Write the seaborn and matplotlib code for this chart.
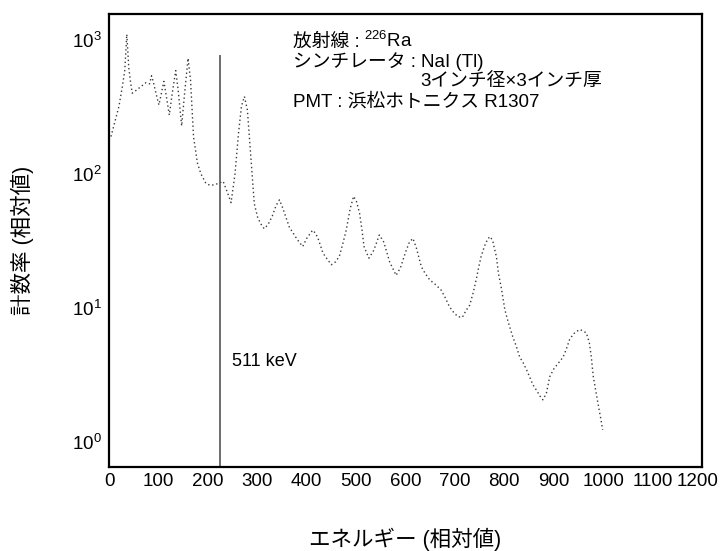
import matplotlib
matplotlib.use("Agg")
import matplotlib.pyplot as plt
import matplotlib.ticker as mticker
import matplotlib.transforms as mtransforms
import seaborn as sns
import pandas as pd

# Pulse-height spectrum of Ra-226 measured with a NaI(Tl) scintillator
energy = [4, 13, 20, 27, 32, 36, 40, 44, 47, 55, 65, 75, 82, 86, 90, 95, 101,
          106, 111, 116, 122, 128, 135, 140, 147, 153, 160, 165, 171, 179, 186,
          196, 205, 213, 222, 231, 240, 247, 255, 262, 268, 274, 280, 286, 294,
          301, 308, 314, 322, 330, 338, 345, 352, 365, 375, 382, 392, 400, 412,
          418, 423, 433, 442, 450, 458, 466, 473, 480, 488, 495, 501, 507, 512,
          516, 526, 536, 547, 556, 568, 581, 590, 600, 608, 615, 622, 632, 640,
          649, 660, 672, 680, 689, 698, 706, 715, 722, 730, 737, 743, 748, 753,
          760, 767, 772, 777, 784, 788, 794, 801, 808, 817, 824, 831, 838, 845,
          852, 858, 866, 872, 878, 885, 892, 900, 910, 919, 926, 932, 940, 947,
          953, 960, 966, 972, 976, 980, 985, 990, 995, 999]
counts = [190, 253, 318, 449, 597, 1100, 620, 470, 400, 420, 450, 480, 470,
          540, 480, 400, 327, 400, 490, 380, 275, 400, 590, 420, 228, 400, 730,
          500, 190, 120, 100, 85, 82, 83, 85, 88, 72, 61, 100, 200, 320, 378,
          300, 151, 60, 47, 42, 39, 42, 48, 58, 64, 55, 40, 35, 32, 28.7, 33,
          38, 36, 33, 25.6, 23, 21, 22, 24.2, 30, 38, 55, 68, 62, 51, 38, 28.7,
          23.5, 27, 35, 31, 22, 17.5, 20, 26, 31, 33, 28, 20.3, 18, 16.2, 15,
          13.6, 12, 10.2, 9.2, 8.6, 8.5, 9.5, 10.5, 13, 16.2, 20, 24.2, 29, 33,
          34, 31, 24, 18.2, 14, 9.7, 7.8, 6.1, 5.2, 4.3, 3.9, 3.45, 3.0, 2.66,
          2.4, 2.2, 2.06, 2.3, 3.07, 3.5, 3.9, 4.3, 5.0, 5.8, 6.4, 6.7, 6.9,
          6.7, 6.5, 5.5, 4.3, 3.07, 2.4, 1.89, 1.5, 1.23]

x_ticks = list(range(0, 1201, 100))
y_ticks = [1, 10, 100, 1000]

marker_x = 225          # annihilation line position
marker_top = 770
marker_label = "511 keV"

sns.set_style("white")
plt.rcParams["font.family"] = ["Liberation Sans", "Noto Sans CJK JP"]
plt.rcParams["mathtext.fontset"] = "custom"
plt.rcParams["mathtext.rm"] = "Liberation Sans"
plt.rcParams["mathtext.it"] = "Liberation Sans:italic"
plt.rcParams["mathtext.bf"] = "Liberation Sans:bold"
plt.rcParams["mathtext.default"] = "regular"
plt.rcParams["text.color"] = "black"
plt.rcParams["axes.labelcolor"] = "black"
plt.rcParams["xtick.labelcolor"] = "black"
plt.rcParams["ytick.labelcolor"] = "black"

df = pd.DataFrame({"energy": energy, "counts": counts})

fig = plt.figure(figsize=(7.2, 5.51), dpi=100)
ax = fig.add_axes([0.1514, 0.1525, 0.8236, 0.8221])

sns.lineplot(data=df, x="energy", y="counts", ax=ax, color="#3a3a3a",
             linewidth=1.0, linestyle=(0, (1, 2)), estimator=None)

ax.set_yscale("log")
ax.set_xlim(0, 1200)
ylo, yhi = 0.65, 1560
ax.set_ylim(ylo, yhi)
ax.set_xticks(x_ticks)
ax.yaxis.set_major_locator(mticker.FixedLocator(y_ticks))
ax.yaxis.set_major_formatter(mticker.LogFormatterSciNotation())
ax.yaxis.set_minor_locator(mticker.NullLocator())

ax.vlines(marker_x, ylo, marker_top, color="#555555", linewidth=1.2)
ax.text(0.207, 0.2325, marker_label, transform=ax.transAxes, fontsize=13,
        va="center", ha="left")

# Source / detector description
fs = 13.5
x0 = 0.310
t1 = ax.text(x0, 0.927, "放射線 :", transform=ax.transAxes, fontsize=fs,
             va="baseline", ha="left")
ax.annotate("$^{226}$Ra", xy=(1, 0.927), xycoords=(t1, "axes fraction"),
            xytext=(3.5, 0), textcoords="offset points", fontsize=fs,
            va="baseline", ha="left")
t2 = ax.text(x0, 0.883, "シンチレータ :", transform=ax.transAxes,
             fontsize=fs, va="baseline", ha="left")
t2b = ax.annotate("NaI (Tl)", xy=(1, 0.883), xycoords=(t2, "axes fraction"),
                  xytext=(3.5, 0), textcoords="offset points", fontsize=fs,
                  va="baseline", ha="left")
ax.annotate("3インチ径×3インチ厚", xy=(0, 0.841), xycoords=(t2b, "axes fraction"),
            fontsize=fs, va="baseline", ha="left")
ax.text(x0, 0.795, "PMT : 浜松ホトニクス R1307", transform=ax.transAxes,
        fontsize=fs, va="baseline", ha="left")

ax.tick_params(axis="both", which="major", direction="in", length=6,
               width=1.0, color="#555555", labelsize=13.5)
ax.tick_params(axis="x", pad=4.5)
ax.tick_params(axis="y", pad=5.5)
for s in ax.spines.values():
    s.set_linewidth(1.6)
    s.set_color("black")

# keep the last x tick label inside the figure edge
fig.canvas.draw()
last = ax.get_xticklabels()[-1]
last.set_transform(last.get_transform() +
                   mtransforms.ScaledTranslation(-3.5 / 72, 0, fig.dpi_scale_trans))

ax.set_xlabel("エネルギー (相対値)", fontsize=15.5, labelpad=27)
ax.set_ylabel("計数率 (相対値)", fontsize=15.5, labelpad=27)

fig.savefig("out.png", dpi=100)
